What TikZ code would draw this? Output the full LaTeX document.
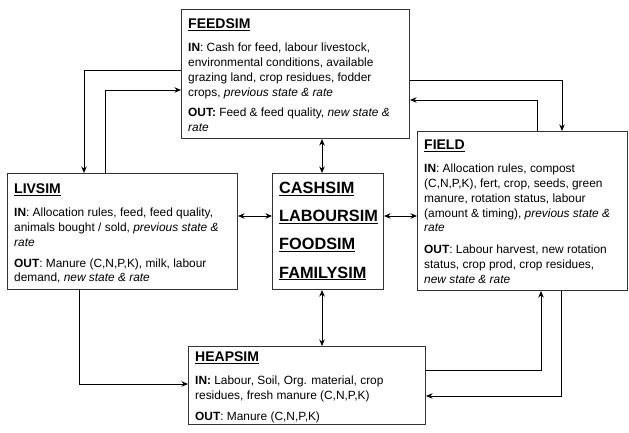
\documentclass[tikz,border=0pt]{standalone}
\usepackage{fontspec}
\setmainfont{Liberation Sans}
\usetikzlibrary{arrows.meta,positioning,calc}

% bold underlined module name
\newcommand{\modname}[1]{\setbox0\hbox{\bfseries #1}\rlap{\rule[-2.2pt]{\wd0}{1.1pt}}\box0}
\newcommand{\hd}[1]{{\fontsize{14}{16}\selectfont\modname{#1}}}

\begin{document}
\begin{tikzpicture}[x=1pt,y=-1pt,
  ar/.style={-{Stealth[length=6.5pt,width=5.5pt]},line width=0.8pt},
  dar/.style={{Stealth[length=6.5pt,width=5.5pt]}-{Stealth[length=6.5pt,width=5.5pt]},line width=0.8pt},
  box/.style={draw=black!80,line width=1pt,anchor=north west,inner sep=0pt},
  txt/.style={anchor=north west,inner sep=0pt,align=left,
    font=\fontsize{11.9}{14.8}\selectfont}]
\useasboundingbox (0,0) rectangle (629,432);

% boxes
\node[box,minimum width=228pt,minimum height=129pt] (feed) at (181,9) {};
\node[box,minimum width=230pt,minimum height=116pt] (liv) at (7,173) {};
\node[box,minimum width=111pt,minimum height=116pt] (mid) at (272,173) {};
\node[box,minimum width=210pt,minimum height=159pt] (field) at (417,131) {};
\node[box,minimum width=237pt,minimum height=78pt] (heap) at (188,346) {};

% texts
\node[txt] (feedtxt) at (188,19) {\hd{FEEDSIM}\\[8pt]
  \textbf{IN}: Cash for feed, labour livestock,\\
  environmental conditions, available\\
  grazing land, crop residues, fodder\\
  crops, \textit{previous state \& rate}\\[6pt]
  \textbf{OUT:} Feed \& feed quality, \textit{new state \&}\\
  \textit{rate}};
\node[txt] (livtxt) at (14,184) {\hd{LIVSIM}\\[8pt]
  \textbf{IN}: Allocation rules, feed, feed quality,\\
  animals bought / sold, \textit{previous state \&}\\
  \textit{rate}\\[6pt]
  \textbf{OUT}: Manure (C,N,P,K), milk, labour\\
  demand, \textit{new state \& rate}};
\node[txt,font=\fontsize{16.3}{28.2}\selectfont] (midtxt) at (279,182) {\modname{CASHSIM}\\
  \modname{LABOURSIM}\\ \modname{FOODSIM}\\ \modname{FAMILYSIM}};
\node[txt] (fieldtxt) at (424,140) {\hd{FIELD}\\[8pt]
  \textbf{IN}: Allocation rules, compost\\
  (C,N,P,K), fert, crop, seeds, green\\
  manure, rotation status, labour\\
  (amount \& timing), \textit{previous state \&}\\
  \textit{rate}\\[7pt]
  \textbf{OUT}: Labour harvest, new rotation\\
  status, crop prod, crop residues,\\
  \textit{new state \& rate}};
\node[txt] (heaptxt) at (195,352) {\hd{HEAPSIM}\\[8pt]
  \textbf{IN:} Labour, Soil, Org. material, crop\\
  residues, fresh manure (C,N,P,K)\\[6pt]
  \textbf{OUT}: Manure (C,N,P,K)};

% connectors
\draw[ar] (feed.west |- 0,70) -| (liv.north -| 84,0);
\draw[ar] (liv.north -| 105,0) |- (feed.west |- 0,90);
\draw[ar] (feed.east |- 0,80) -| (field.north -| 562,0);
\draw[ar] (field.north -| 537,0) |- (feed.east |- 0,100);
\draw[dar] (feed.south -| 322,0) -- (mid.north -| 322,0);
\draw[dar] (mid.south -| 322,0) -- (heap.north -| 322,0);
\draw[dar] (liv.east |- 0,216) -- (mid.west |- 0,216);
\draw[dar] (mid.east |- 0,216) -- (field.west |- 0,216);
\draw[ar] (liv.south -| 79,0) |- (heap.west |- 0,384);
\draw[ar] (heap.east |- 0,370) -| (field.south -| 541,0);
\draw[ar] (field.south -| 561,0) |- (heap.east |- 0,396);
\end{tikzpicture}
\end{document}
